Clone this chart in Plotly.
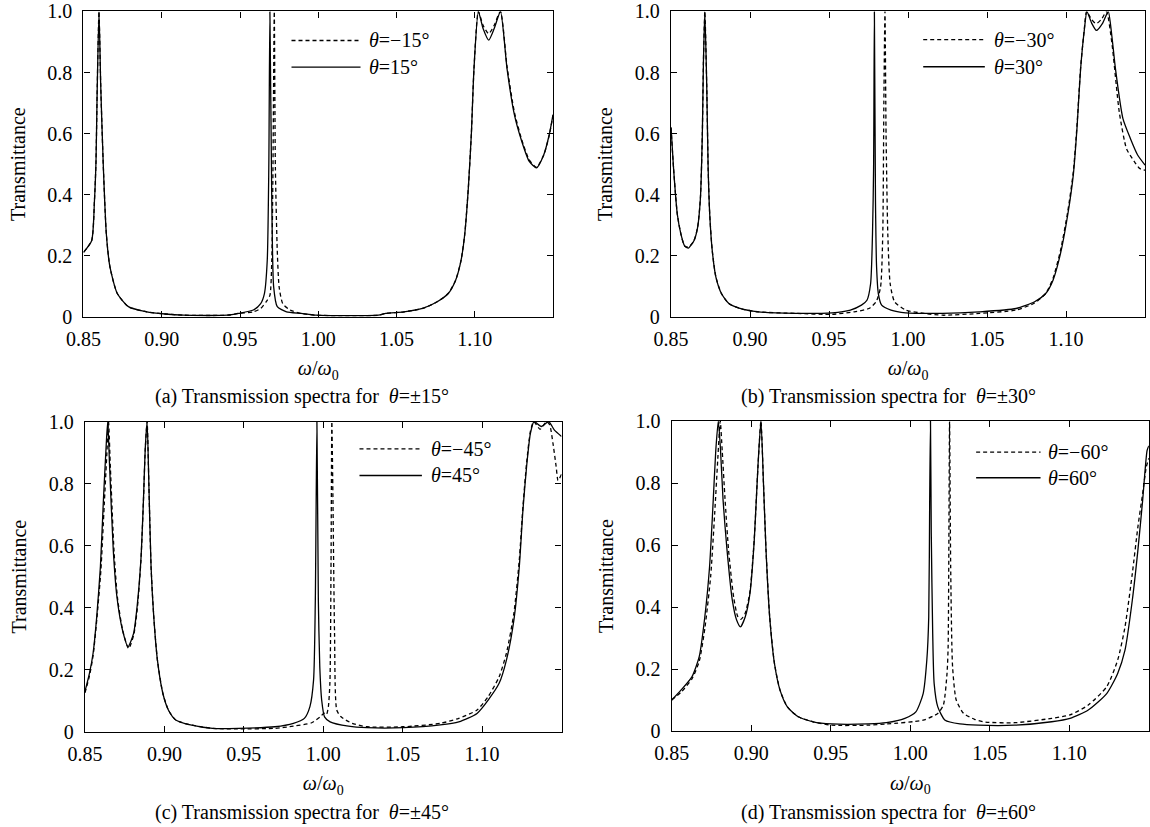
import plotly.graph_objects as go

FONT = "Liberation Serif"

# ---- (a) theta = +/-15 deg ----
a_pos_x = [0.850, 0.8552, 0.8570, 0.8580, 0.8587, 0.8599, 0.8610, 0.8627, 0.8646, 0.8669,
           0.8716, 0.8787, 0.8904, 0.9021, 0.9139, 0.9420, 0.9491, 0.9585, 0.9632, 0.9656,
           0.9674, 0.9684, 0.9691, 0.9703, 0.9715, 0.9738, 0.9797, 0.9891, 0.9985, 1.0384,
           1.0431, 1.0548, 1.0666, 1.0760, 1.0830, 1.0877, 1.0912, 1.0936, 1.0959, 1.0978,
           1.0995, 1.1023, 1.1053, 1.1089, 1.1124, 1.1164, 1.1206, 1.1253, 1.1300, 1.1347,
           1.1394, 1.1441, 1.1476, 1.1500]
a_pos_y = [0.211, 0.249, 0.380, 0.510, 0.727, 1.0, 0.759, 0.488, 0.271, 0.163,
           0.076, 0.033, 0.016, 0.009, 0.005, 0.005, 0.011, 0.022, 0.043, 0.076,
           0.184, 0.488, 1.0, 0.380, 0.098, 0.033, 0.016, 0.011, 0.005, 0.005,
           0.011, 0.016, 0.027, 0.049, 0.076, 0.119, 0.184, 0.271, 0.423, 0.597,
           0.813, 1.0, 0.944, 0.906, 0.944, 1.0, 0.813, 0.662, 0.575, 0.510,
           0.488, 0.531, 0.597, 0.662]
a_neg_x = [0.850, 0.8552, 0.8570, 0.8580, 0.8587, 0.8599, 0.8610, 0.8627, 0.8646, 0.8669,
           0.8716, 0.8787, 0.8904, 0.9021, 0.9139, 0.9420, 0.9491, 0.9585, 0.9632, 0.9667,
           0.9691, 0.9703, 0.9710, 0.9719, 0.9726, 0.9738, 0.9750, 0.9773, 0.9820, 0.9891,
           0.9985, 1.0384, 1.0431, 1.0548, 1.0666, 1.0760, 1.0830, 1.0877, 1.0912, 1.0936,
           1.0959, 1.0978, 1.0995, 1.1023, 1.1053, 1.1089, 1.1124, 1.1164, 1.1206, 1.1253,
           1.1300, 1.1347, 1.1394, 1.1441, 1.1476, 1.1500]
a_neg_y = [0.211, 0.249, 0.380, 0.510, 0.727, 1.0, 0.759, 0.488, 0.271, 0.163,
           0.076, 0.033, 0.016, 0.009, 0.005, 0.005, 0.011, 0.016, 0.027, 0.049,
           0.070, 0.184, 0.45, 1.0, 0.488, 0.217, 0.098, 0.043, 0.022, 0.011,
           0.005, 0.005, 0.011, 0.016, 0.027, 0.049, 0.076, 0.119, 0.184, 0.271,
           0.423, 0.597, 0.813, 1.0, 0.955, 0.927, 0.955, 1.0, 0.82, 0.67,
           0.58, 0.515, 0.49, 0.53, 0.595, 0.66]

# ---- (b) theta = +/-30 deg ----
b_pos_x = [0.850, 0.8516, 0.8540, 0.8563, 0.8586, 0.8610, 0.8645, 0.8668, 0.8686, 0.8698,
           0.8705, 0.8714, 0.8726, 0.8735, 0.8745, 0.8761, 0.8784, 0.8819, 0.8866, 0.8936,
           0.9052, 0.9286, 0.9519, 0.9635, 0.9705, 0.9740, 0.9763, 0.9775, 0.9782, 0.9787,
           0.9794, 0.9801, 0.9812, 0.9833, 0.9892, 0.9985, 1.0218, 1.0451, 1.0684, 1.0801,
           1.0871, 1.0917, 1.0964, 1.1011, 1.1046, 1.1069, 1.1092, 1.1116, 1.1132, 1.1162,
           1.1192, 1.1232, 1.1267, 1.1290, 1.1313, 1.1360, 1.1407, 1.1453, 1.1500]
b_pos_y = [0.62, 0.486, 0.335, 0.270, 0.232, 0.225, 0.249, 0.292, 0.389, 0.595,
           0.832, 1.0, 0.757, 0.486, 0.335, 0.216, 0.130, 0.076, 0.043, 0.027,
           0.016, 0.011, 0.013, 0.022, 0.038, 0.054, 0.108, 0.270, 0.486, 1.0,
           0.378, 0.162, 0.076, 0.038, 0.022, 0.013, 0.011, 0.016, 0.027, 0.049,
           0.076, 0.119, 0.205, 0.335, 0.465, 0.616, 0.811, 0.941, 1.0, 0.962,
           0.938, 0.962, 1.0, 0.919, 0.811, 0.649, 0.584, 0.530, 0.497]
b_neg_x = [0.850, 0.8516, 0.8540, 0.8563, 0.8586, 0.8610, 0.8645, 0.8668, 0.8686, 0.8698,
           0.8705, 0.8714, 0.8726, 0.8735, 0.8745, 0.8761, 0.8784, 0.8819, 0.8866, 0.8936,
           0.9052, 0.9286, 0.9519, 0.9659, 0.9752, 0.9798, 0.9826, 0.9840, 0.9847, 0.9854,
           0.9861, 0.9872, 0.9887, 0.9915, 0.9985, 1.0101, 1.0218, 1.0451, 1.0684, 1.0801,
           1.0871, 1.0917, 1.0964, 1.1011, 1.1046, 1.1069, 1.1092, 1.1116, 1.1130, 1.1160,
           1.1190, 1.1225, 1.1256, 1.1290, 1.1337, 1.1383, 1.1430, 1.1465, 1.1500]
b_neg_y = [0.62, 0.486, 0.335, 0.270, 0.232, 0.228, 0.249, 0.292, 0.389, 0.595,
           0.832, 1.0, 0.757, 0.486, 0.335, 0.216, 0.130, 0.076, 0.043, 0.027,
           0.016, 0.011, 0.008, 0.016, 0.027, 0.049, 0.097, 0.270, 0.703, 1.0,
           0.595, 0.270, 0.108, 0.049, 0.022, 0.011, 0.005, 0.011, 0.022, 0.045,
           0.076, 0.125, 0.215, 0.345, 0.475, 0.625, 0.815, 0.945, 1.0, 0.975,
           0.96, 0.975, 1.0, 0.897, 0.67, 0.55, 0.51, 0.486, 0.48]

# ---- (c) theta = +/-45 deg ----
c_pos_x = [0.850, 0.8528, 0.8551, 0.8574, 0.8597, 0.8616, 0.8632, 0.8643, 0.8655, 0.8678,
           0.8701, 0.8736, 0.8771, 0.8806, 0.8828, 0.8852, 0.8868, 0.8879, 0.8891, 0.8902,
           0.8916, 0.8933, 0.8956, 0.8990, 0.9025, 0.9071, 0.9164, 0.9303, 0.9465, 0.9696,
           0.9812, 0.9881, 0.9916, 0.9939, 0.9950, 0.9960, 0.9969, 0.9978, 0.9990, 1.0008,
           1.0043, 1.0159, 1.0274, 1.0506, 1.0737, 1.0853, 1.0968, 1.1038, 1.1107, 1.1153,
           1.1200, 1.1234, 1.1257, 1.1280, 1.1304, 1.1327, 1.1373, 1.1419, 1.1454, 1.1500]
c_pos_y = [0.13, 0.188, 0.253, 0.371, 0.532, 0.747, 0.909, 1.0, 0.855, 0.586,
           0.435, 0.328, 0.274, 0.317, 0.403, 0.554, 0.747, 0.909, 1.0, 0.801,
           0.532, 0.371, 0.231, 0.124, 0.070, 0.038, 0.022, 0.011, 0.011, 0.016,
           0.027, 0.043, 0.081, 0.167, 0.425, 1.0, 0.425, 0.210, 0.102, 0.048,
           0.032, 0.018, 0.013, 0.013, 0.022, 0.032, 0.059, 0.102, 0.156, 0.231,
           0.360, 0.532, 0.715, 0.855, 0.962, 1.0, 0.984, 1.0, 0.973, 0.952]
c_neg_x = [0.850, 0.8528, 0.8551, 0.8574, 0.8600, 0.8621, 0.8638, 0.8648, 0.8660, 0.8683,
           0.8705, 0.8738, 0.8775, 0.8808, 0.8830, 0.8852, 0.8868, 0.8879, 0.8891, 0.8902,
           0.8916, 0.8933, 0.8956, 0.8990, 0.9025, 0.9071, 0.9164, 0.9303, 0.9465, 0.9696,
           0.9812, 0.9927, 0.9985, 1.0005, 1.0020, 1.0032, 1.0042, 1.0049, 1.0054, 1.0061,
           1.0071, 1.0085, 1.0112, 1.0182, 1.0274, 1.0506, 1.0737, 1.0853, 1.0968, 1.1038,
           1.1107, 1.1153, 1.1200, 1.1234, 1.1257, 1.1280, 1.1304, 1.1325, 1.1365, 1.1405,
           1.1425, 1.1446, 1.1466, 1.1478, 1.1500]
c_neg_y = [0.125, 0.18, 0.245, 0.36, 0.52, 0.73, 0.90, 1.0, 0.85, 0.58,
           0.43, 0.325, 0.268, 0.315, 0.40, 0.55, 0.745, 0.905, 1.0, 0.80,
           0.532, 0.371, 0.231, 0.124, 0.070, 0.038, 0.022, 0.011, 0.009, 0.011,
           0.018, 0.029, 0.05, 0.06, 0.055, 0.08, 0.16, 0.55, 1.0, 0.747,
           0.317, 0.070, 0.048, 0.027, 0.016, 0.016, 0.027, 0.043, 0.070, 0.113,
           0.177, 0.253, 0.382, 0.554, 0.726, 0.866, 0.968, 1.0, 0.975, 1.0,
           0.99, 0.93, 0.855, 0.81, 0.83]

# ---- (d) theta = +/-60 deg ----
d_pos_x = [0.850, 0.8558, 0.8627, 0.8673, 0.8708, 0.8738, 0.8761, 0.8777, 0.8793, 0.8807,
           0.8823, 0.8846, 0.8881, 0.8908, 0.8932, 0.8962, 0.8992, 0.9019, 0.9042, 0.9061,
           0.9077, 0.9093, 0.9116, 0.9146, 0.9181, 0.9227, 0.9296, 0.9389, 0.9504, 0.9735,
           0.9850, 0.9966, 1.0035, 1.0081, 1.0104, 1.0116, 1.0122, 1.0127, 1.0132, 1.0141,
           1.0150, 1.0173, 1.0219, 1.0312, 1.0427, 1.0658, 1.0889, 1.1004, 1.1119, 1.1235,
           1.1304, 1.1350, 1.1396, 1.1431, 1.1461, 1.1489, 1.1500]
d_pos_y = [0.10, 0.132, 0.175, 0.240, 0.368, 0.530, 0.744, 0.905, 1.0, 0.905,
           0.744, 0.594, 0.422, 0.358, 0.336, 0.368, 0.444, 0.615, 0.852, 1.0,
           0.798, 0.583, 0.368, 0.218, 0.132, 0.078, 0.046, 0.030, 0.023, 0.023,
           0.027, 0.041, 0.062, 0.121, 0.229, 0.368, 0.744, 1.0, 0.637, 0.315,
           0.154, 0.078, 0.035, 0.023, 0.019, 0.019, 0.030, 0.041, 0.068, 0.121,
           0.186, 0.261, 0.422, 0.583, 0.744, 0.905, 0.92]
d_neg_x = [0.850, 0.8558, 0.8627, 0.8673, 0.8708, 0.8745, 0.8770, 0.8790, 0.8805, 0.8818,
           0.8835, 0.8858, 0.8890, 0.8915, 0.8935, 0.8962, 0.8992, 0.9019, 0.9042, 0.9061,
           0.9077, 0.9093, 0.9116, 0.9146, 0.9181, 0.9227, 0.9296, 0.9389, 0.9504, 0.9735,
           0.9850, 1.0081, 1.0173, 1.0208, 1.0231, 1.0238, 1.0247, 1.0254, 1.0266, 1.0289,
           1.0335, 1.0404, 1.0473, 1.0658, 1.0889, 1.1004, 1.1119, 1.1235, 1.1304, 1.1350,
           1.1396, 1.1431, 1.1461, 1.1484, 1.1500]
d_neg_y = [0.100, 0.125, 0.168, 0.225, 0.330, 0.500, 0.700, 0.880, 1.0, 0.900,
           0.750, 0.580, 0.430, 0.370, 0.360, 0.380, 0.450, 0.620, 0.850, 1.0,
           0.798, 0.583, 0.368, 0.218, 0.132, 0.078, 0.046, 0.030, 0.019, 0.019,
           0.023, 0.035, 0.057, 0.084, 0.186, 0.272, 1.0, 0.530, 0.207, 0.100,
           0.057, 0.038, 0.029, 0.027, 0.041, 0.052, 0.084, 0.143, 0.229, 0.336,
           0.508, 0.658, 0.766, 0.852, 0.88]

angles = [15, 30, 45, 60]
letters = ["a", "b", "c", "d"]
x_tick_vals = [0.85, 0.90, 0.95, 1.00, 1.05, 1.10]
x_tick_text = ["0.85", "0.90", "0.95", "1.00", "1.05", "1.10"]
y_tick_vals = [0, 0.2, 0.4, 0.6, 0.8, 1.0]
y_tick_text = ["0", "0.2", "0.4", "0.6", "0.8", "1.0"]

series = [
    (a_neg_x, a_neg_y, a_pos_x, a_pos_y),
    (b_neg_x, b_neg_y, b_pos_x, b_pos_y),
    (c_neg_x, c_neg_y, c_pos_x, c_pos_y),
    (d_neg_x, d_neg_y, d_pos_x, d_pos_y),
]

# panel geometry (paper fractions)
x_domains = [[0.0726, 0.4809], [0.5835, 0.9957], [0.0739, 0.4883], [0.5841, 0.9990]]
y_domains = [[0.6170, 0.9861], [0.6170, 0.9861], [0.1152, 0.4903], [0.1160, 0.4909]]
# legend layout inside each panel (axis-domain fractions)
leg_line = [(0.443, 0.590), (0.532, 0.662), (0.576, 0.707), (0.638, 0.773)]
leg_text_x = [0.603, 0.678, 0.721, 0.785]
leg_rows = [(0.905, 0.818), (0.908, 0.819), (0.912, 0.826), (0.900, 0.817)]
caption_pos = [(0.263, 0.520), (0.7726, 0.520), (0.263, 0.0181), (0.7726, 0.0181)]

DASH = "4px,3px"
LW = 1.3


def serif(size=20):
    return dict(family=FONT, size=size, color="black")


traces = []
layout = dict(width=1150, height=827, margin=dict(l=0, r=0, t=0, b=0),
              paper_bgcolor="white", plot_bgcolor="white", showlegend=False,
              template="none", font=serif())
shapes = []
annotations = []
for i, (nx, ny, px, py) in enumerate(series):
    k = "" if i == 0 else str(i + 1)
    xa, ya = "x" + k, "y" + k
    ang = angles[i]
    traces.append(go.Scatter(x=nx, y=ny, xaxis=xa, yaxis=ya, mode="lines",
                             line=dict(color="black", width=LW, dash=DASH,
                                       shape="spline", smoothing=0.6),
                             name="θ=−%d°" % ang))
    traces.append(go.Scatter(x=px, y=py, xaxis=xa, yaxis=ya, mode="lines",
                             line=dict(color="black", width=LW,
                                       shape="spline", smoothing=0.6),
                             name="θ=%d°" % ang))

    frame = dict(showline=True, linecolor="black", linewidth=1.4, mirror="ticks",
                 ticks="inside", ticklen=6, tickwidth=1.2, tickcolor="black",
                 showgrid=False, zeroline=False, automargin=False,
                 ticklabeloverflow="allow")
    layout["xaxis" + k] = dict(
        frame, domain=x_domains[i], range=[0.85, 1.15], anchor=ya,
        tickvals=x_tick_vals, ticktext=x_tick_text, ticklabelstandoff=4,
        tickfont=serif(),
        title=dict(text="<i>ω</i>/<i>ω</i><sub>0</sub>", standoff=12, font=serif()))
    layout["yaxis" + k] = dict(
        frame, domain=y_domains[i], range=[0, 1], anchor=xa,
        tickvals=y_tick_vals, ticktext=y_tick_text, ticklabelstandoff=6,
        tickfont=serif(),
        title=dict(text="Transmittance", standoff=16, font=serif()))

    # legend keys
    x0, x1 = leg_line[i]
    r1, r2 = leg_rows[i]
    shapes.append(dict(type="line", xref=xa + " domain", yref=ya + " domain",
                       x0=x0, x1=x1, y0=r1, y1=r1,
                       line=dict(color="black", width=LW, dash=DASH)))
    shapes.append(dict(type="line", xref=xa + " domain", yref=ya + " domain",
                       x0=x0, x1=x1, y0=r2, y1=r2,
                       line=dict(color="black", width=LW)))
    for row, label in ((r1, "<i>θ</i>=−%d°" % ang), (r2, "<i>θ</i>=%d°" % ang)):
        annotations.append(dict(xref=xa + " domain", yref=ya + " domain",
                                x=leg_text_x[i], y=row, xanchor="left", yanchor="middle",
                                text=label, showarrow=False, font=serif()))

    cx, cy = caption_pos[i]
    annotations.append(dict(xref="paper", yref="paper", x=cx, y=cy,
                            xanchor="center", yanchor="middle", showarrow=False,
                            text="(%s) Transmission spectra for \u00a0<i>θ</i>=±%d°" % (letters[i], ang),
                            font=serif()))

layout["shapes"] = shapes
layout["annotations"] = annotations
fig = go.Figure(data=traces, layout=layout)
fig.write_html("out.html")
